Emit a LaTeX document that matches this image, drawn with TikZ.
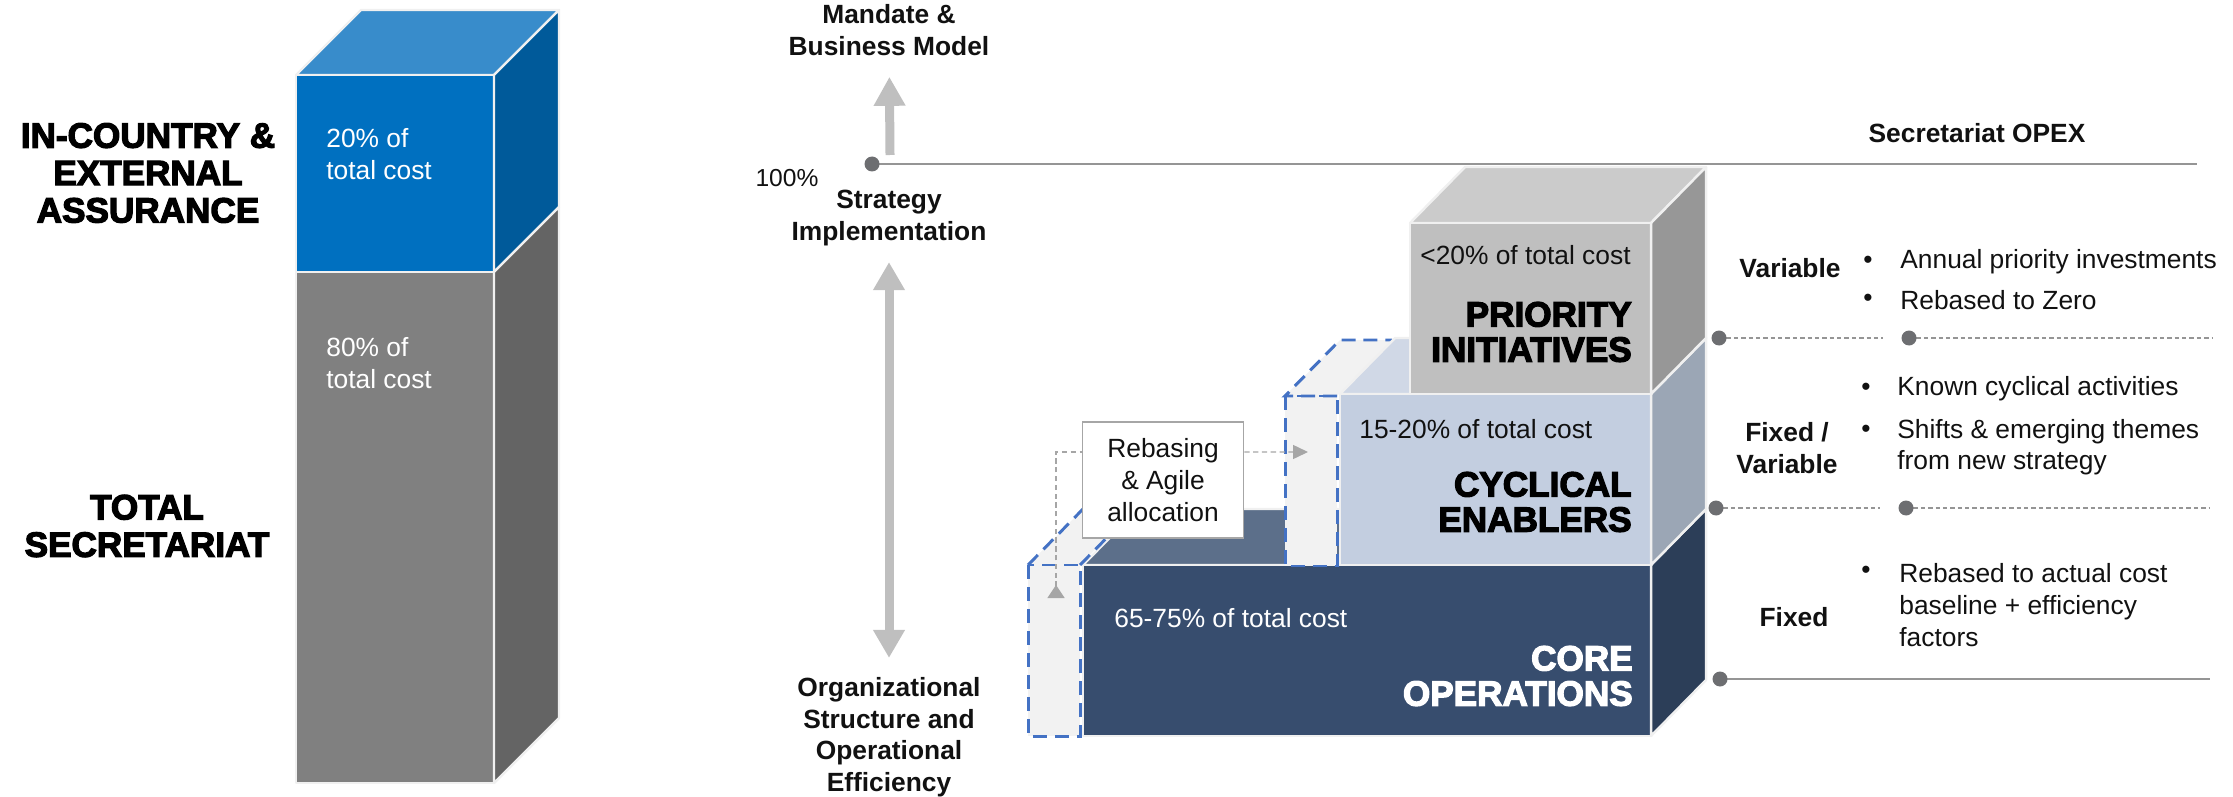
\documentclass[tikz,border=0pt]{standalone}
\usepackage{fontspec}
\setmainfont{Liberation Sans}
\newfontfamily\heavyfont[FakeBold=3.5]{Liberation Sans Bold}
\usetikzlibrary{arrows.meta, positioning}

\definecolor{assurefront}{HTML}{0070C0}
\definecolor{assuretop}{HTML}{388CCB}
\definecolor{assureside}{HTML}{005A9A}
\definecolor{secfront}{HTML}{808080}
\definecolor{secside}{HTML}{646464}
\definecolor{prifront}{HTML}{BFBFBF}
\definecolor{pritop}{HTML}{CBCBCB}
\definecolor{priside}{HTML}{979797}
\definecolor{cycfront}{HTML}{C3CEE0}
\definecolor{cyctop}{HTML}{D0D8E6}
\definecolor{cycside}{HTML}{9BA6B5}
\definecolor{corefront}{HTML}{374D6E}
\definecolor{coretop}{HTML}{5C6F8A}
\definecolor{coreside}{HTML}{2C3E58}
\definecolor{ghostblue}{HTML}{4472C4}
\definecolor{ghostfill}{HTML}{F2F2F2}
\definecolor{arrowgray}{HTML}{BFBFBF}
\definecolor{rulegray}{HTML}{959595}
\definecolor{dotgray}{HTML}{6D6E71}
\definecolor{flowgray}{HTML}{A6A6A6}
\definecolor{edgewhite}{HTML}{F0F0F0}
\definecolor{inkblack}{HTML}{111111}

\newcommand{\bodysize}{\fontsize{15}{18}\selectfont}
\newcommand{\heavysize}{\heavyfont\fontsize{20}{20}\selectfont}

\begin{document}
\begin{tikzpicture}[x=0.02cm, y=-0.02cm,
    face/.style={draw=edgewhite, line width=1.4pt, line join=round},
    ghost/.style={draw=ghostblue, line width=1.7pt, dash pattern=on 0.28cm off 0.16cm},
    plaintext/.style={inner sep=0pt, text=inkblack, font=\bodysize},
    boldtext/.style={inner sep=0pt, align=center, text=inkblack, font=\bodysize\bfseries},
    bigtext/.style={inner sep=0pt, align=right, font=\heavysize},
    bigarrow/.style={draw=arrowgray, line width=0.18cm},
    flowline/.style={draw=flowgray, line width=0.8pt, dash pattern=on 3pt off 2pt},
    rule/.style={draw=rulegray, line width=1.1pt},
    dotrule/.style={draw=rulegray, line width=0.9pt, dash pattern=on 2.5pt off 1.7pt},
    dot/.style={fill=dotgray}]
  \useasboundingbox (0,0) rectangle (2233,797);

  % Total secretariat column
  \draw[face, fill=assuretop] (296,75) -- (361,10) -- (559,10) -- (494,75) -- cycle;
  \draw[face, fill=assurefront] (296,75) rectangle (494,272);
  \draw[face, fill=secfront] (296,272) rectangle (494,783);
  \draw[face, fill=assureside] (494,75) -- (559,10) -- (559,207) -- (494,272) -- cycle;
  \draw[face, fill=secside] (494,272) -- (559,207) -- (559,718) -- (494,783) -- cycle;
  \node[plaintext, text=white, anchor=west, align=left] (assureshare) at (326,154) {20\% of\\total cost};
  \node[plaintext, text=white, anchor=west, align=left] (secshare) at (326,363) {80\% of\\total cost};
  \node[bigtext, align=center] (assure) at (148,173) {IN-COUNTRY \&\\[1.3pt]EXTERNAL\\[1.3pt]ASSURANCE};
  \node[bigtext, align=center] (secretariat) at (147,526) {TOTAL\\[1.3pt]SECRETARIAT};

  % Axis of the cost model
  \node[boldtext] (mandate) at (889,30) {Mandate \&\\Business Model};
  \node[boldtext] (strategy) at (889,218) {Strategy\\Implementation};
  \node[boldtext] (orgeff) at (889,737) {Organizational\\Structure and\\Operational\\Efficiency};
  \coordinate (upfoot) at (890,155);
  \draw[bigarrow, -{Triangle[width=0.6cm, length=0.58cm]}, shorten >=0.42cm] (upfoot) -- (mandate);
  \draw[bigarrow, {Triangle[width=0.6cm, length=0.56cm]}-{Triangle[width=0.6cm, length=0.56cm]},
    shorten <=0.32cm, shorten >=0.38cm] (strategy) -- (orgeff);
  \coordinate (full) at (872,164);
  \coordinate (fullend) at (2197,164);
  \draw[rule] (full) -- (fullend);
  \fill[dot] (full) circle[radius=7.5];
  \node[plaintext, font=\fontsize{14}{16}\selectfont] (pct) at (787,178) {100\%};
  \node[boldtext] (opex) at (1977,133) {Secretariat OPEX};

  % Core operations
  \draw[face, fill=coretop] (1083,565) -- (1138,509) -- (1706,509) -- (1651,565) -- cycle;
  \draw[face, fill=corefront] (1083,565) rectangle (1651,736);
  \draw[face, fill=coreside] (1651,565) -- (1706,509) -- (1706,680) -- (1651,736) -- cycle;

  % Freed-up space beside the core block
  \fill[ghostfill] (1028,565) -- (1083,509) -- (1135,509) -- (1080,565) -- cycle;
  \fill[ghostfill] (1028,565) rectangle (1080,736);
  \draw[ghost] (1080,565) -- (1135,509) (1028,565) -- (1083,509);
  \draw[ghost] (1028,565) rectangle (1080,736);

  % Freed-up space beside the cyclical block
  \fill[ghostfill] (1285,396) -- (1340,340) -- (1392,340) -- (1337,396) -- cycle;
  \fill[ghostfill] (1285,396) rectangle (1337,566);
  \draw[ghost] (1337,396) -- (1285,396) -- (1340,340) -- (1392,340);
  \draw[ghost] (1285,396) rectangle (1337,566);

  % Cyclical enablers
  \draw[face, fill=cyctop] (1340,394) -- (1395,338) -- (1706,338) -- (1651,394) -- cycle;
  \draw[face, fill=cycfront] (1340,394) rectangle (1651,565);
  \draw[face, fill=cycside] (1651,394) -- (1706,338) -- (1706,509) -- (1651,565) -- cycle;

  % Priority initiatives
  \draw[face, fill=pritop] (1410,223) -- (1465,167) -- (1706,167) -- (1651,223) -- cycle;
  \draw[face, fill=prifront] (1410,223) rectangle (1651,394);
  \draw[face, fill=priside] (1651,223) -- (1706,167) -- (1706,338) -- (1651,394) -- cycle;

  \node[plaintext, anchor=west] (prishare) at (1420,255) {<20\% of total cost};
  \node[bigtext, anchor=east] (priority) at (1632,332) {PRIORITY\\INITIATIVES};
  \node[plaintext, anchor=west] (cycshare) at (1359,429) {15-20\% of total cost};
  \node[bigtext, anchor=east] (cyclical) at (1632,502) {CYCLICAL\\ENABLERS};
  \node[plaintext, text=white, anchor=west] (coreshare) at (1114,618) {65-75\% of total cost};
  \node[bigtext, text=white, anchor=east] (core) at (1633,676) {CORE\\OPERATIONS};

  % Rebasing box and its flows
  \node[plaintext, draw=flowgray, line width=1pt, fill=white, align=center,
        minimum width=3.22cm, minimum height=2.32cm] (agile) at (1163,480)
        {Rebasing\\\& Agile\\allocation};
  \coordinate (agilefrom) at (1056,598);
  \coordinate (agileto) at (1308,452);
  \draw[flowline, {Triangle[reversed, width=0.34cm, length=0.26cm]}-]
    (agilefrom) |- ([yshift=0.56cm]agile.west);
  \draw[flowline, -{Triangle[width=0.28cm, length=0.3cm]}]
    ([yshift=0.56cm]agile.east) -- (agileto);

  % Cost behaviour bands
  \coordinate (bandA) at (1719,338);
  \coordinate (bandAmid) at (1909,338);
  \coordinate (bandB) at (1716,508);
  \coordinate (bandBmid) at (1906,508);
  \coordinate (bandC) at (1720,679);
  \draw[dotrule] (bandA) -- (1883,338) (bandAmid) -- (2213,338);
  \draw[dotrule] (bandB) -- (1880,508) (bandBmid) -- (2210,508);
  \draw[rule] (bandC) -- (2210,679);
  \foreach \p in {bandA, bandAmid, bandB, bandBmid, bandC}
    \fill[dot] (\p) circle[radius=7.5];

  \node[boldtext] (variable) at (1790,268) {Variable};
  \node[boldtext] (mixed) at (1787,448) {Fixed /\\Variable};
  \node[boldtext] (fixed) at (1794,617) {Fixed};

  \node[plaintext] (bulA) at (1868,262) {•};
  \node[plaintext, anchor=west] (annual) at (1900,262) {Annual priority investments};
  \node[plaintext] (bulB) at (1868,300) {•};
  \node[plaintext, anchor=west] (zero) at (1900,300) {Rebased to Zero};
  \node[plaintext] (bulC) at (1866,389) {•};
  \node[plaintext, anchor=west] (known) at (1897,389) {Known cyclical activities};
  \node[plaintext] (bulD) at (1866,431) {•};
  \node[plaintext, anchor=west, align=left] (shifts) at (1897,447) {Shifts \& emerging themes\\from new strategy};
  \node[plaintext] (bulE) at (1866,572) {•};
  \node[plaintext, anchor=west, align=left] (actual) at (1899,605) {Rebased to actual cost\\baseline + efficiency\\factors};
\end{tikzpicture}
\end{document}
